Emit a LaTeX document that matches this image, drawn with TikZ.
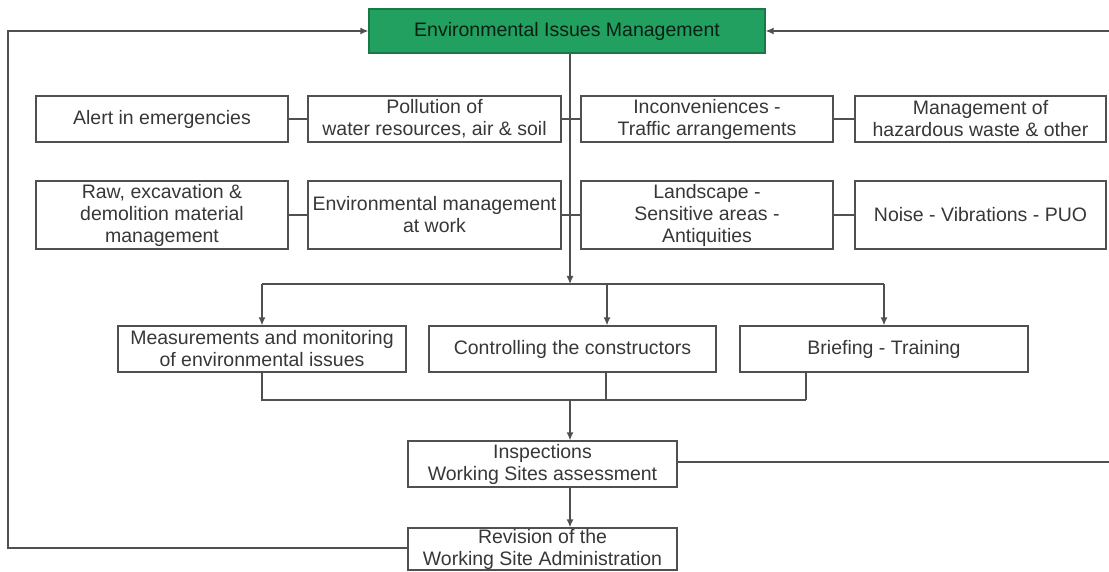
\documentclass[tikz,border=0pt]{standalone}
\usepackage{fontspec}
\setmainfont{Liberation Sans}
\usetikzlibrary{arrows.meta,calc}
\definecolor{eimgreen}{RGB}{34,160,96}
\definecolor{lincol}{RGB}{80,80,80}
\definecolor{txtcol}{RGB}{55,55,55}
\begin{document}
\begin{tikzpicture}[x=1pt,y=-1pt,
  box/.style={draw=lincol, line width=1.3pt, rectangle, inner sep=0pt, align=center, text=txtcol, font=\fontsize{19.5}{22}\selectfont},
  topbox/.style={box, fill=eimgreen, draw=eimgreen!75!black, text=black!80!eimgreen},
  conn/.style={draw=lincol, line width=1.3pt},
  arr/.style={conn, -{Latex[length=8pt,width=7pt]}}]
\useasboundingbox (0,0) rectangle (1109,572);

\node[topbox, minimum width=396, minimum height=44] (top) at (567,31) {Environmental Issues Management};

\node[box, minimum width=252, minimum height=46] (A) at (162,119) {Alert in emergencies};
\node[box, minimum width=253, minimum height=46] (B) at (434.5,119) {Pollution of\\water resources, air \& soil};
\node[box, minimum width=252, minimum height=46] (C) at (707,119) {Inconveniences -\\Traffic arrangements};
\node[box, minimum width=251, minimum height=46] (D) at (980.5,119) {Management of\\hazardous waste \& other};

\node[box, minimum width=252, minimum height=68] (E) at (162,215) {Raw, excavation \&\\demolition material\\management};
\node[box, minimum width=253, minimum height=68] (F) at (434.5,215) {Environmental management\\at work};
\node[box, minimum width=252, minimum height=68] (G) at (707,215) {Landscape -\\Sensitive areas -\\Antiquities};
\node[box, minimum width=251, minimum height=68] (H) at (980.5,215) {Noise - Vibrations - PUO};

\node[box, minimum width=288, minimum height=46] (I) at (262,349) {Measurements and monitoring\\of environmental issues};
\node[box, minimum width=287, minimum height=46] (J) at (572.5,349) {Controlling the constructors};
\node[box, minimum width=288, minimum height=46] (K) at (884,349) {Briefing - Training};

\node[box, minimum width=269, minimum height=46] (insp) at (542.5,464) {Inspections\\Working Sites assessment};
\node[box, minimum width=269, minimum height=42] (rev) at (542.5,549) {Revision of the\\Working Site Administration};

% coordinates
\coordinate (hub) at (570,284);
\coordinate (busL) at (262,284);
\coordinate (busR) at (884,284);
\coordinate (jin) at (607,284);
\coordinate (jout) at (606,400);
\coordinate (kout) at (806,400);
\coordinate (low) at (570,400);
\coordinate (lowL) at (262,400);
\coordinate (leftT) at (8,31);
\coordinate (leftB) at (8,548);
\coordinate (rightT) at (1109,31);
\coordinate (rightI) at (1109,462);

% trunk and side links
\draw[arr] (top.south -| hub) -- (hub);
\draw[conn] (A.east) -- (B.west);
\draw[conn] (B.east) -- (C.west);
\draw[conn] (C.east) -- (D.west);
\draw[conn] (E.east) -- (F.west);
\draw[conn] (F.east) -- (G.west);
\draw[conn] (G.east) -- (H.west);

% distribution bus
\draw[conn] (busL) -- (busR);
\draw[arr] (busL) -- (I.north);
\draw[arr] (jin) -- (jin |- J.north);
\draw[arr] (busR) -- (K.north);

% collecting bus
\draw[conn] (I.south) -- (lowL) -- (kout);
\draw[conn] (jout |- J.south) -- (jout);
\draw[conn] (kout |- K.south) -- (kout);
\draw[arr] (low) -- (low |- insp.north);
\draw[arr] (low |- insp.south) -- (low |- rev.north);

% feedback loops
\draw[arr] (rev.west |- leftB) -- (leftB) -- (leftT) -- (top.west);
\draw[arr] (rightT) -- (top.east);
\draw[conn] (insp.east |- rightI) -- (rightI);
\end{tikzpicture}
\end{document}
